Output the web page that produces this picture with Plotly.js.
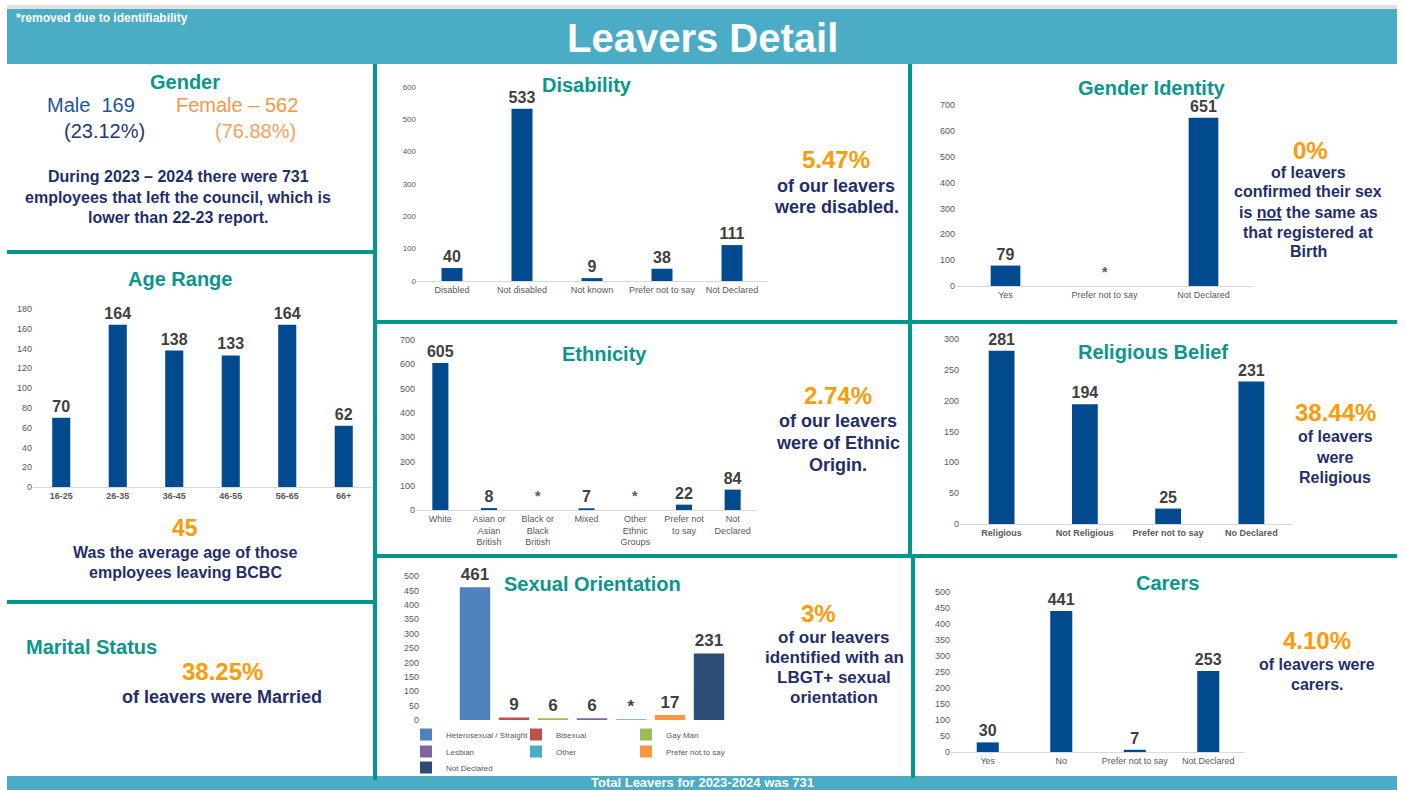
<!DOCTYPE html>
<html>
<head>
<meta charset="utf-8">
<script src="https://cdn.plot.ly/plotly-3.0.1.min.js"></script>
<style>
html,body{margin:0;padding:0;background:#fff;}
#chart{width:1405px;height:790px;}
</style>
</head>
<body>
<div id="chart"></div>
<script>
// ---------------- DATA ----------------
const ageCats = ['16-25','26-35','36-45','46-55','56-65','66+'];
const ageVals = [70,164,138,133,164,62];

const disCats = ['Disabled','Not disabled','Not known','Prefer not to say','Not Declared'];
const disVals = [40,533,9,38,111];

const giCats = ['Yes','Prefer not to say','Not Declared'];
const giVals = [79,null,651];          // null = removed due to identifiability (*)

const ethCats = ['White','Asian or<br>Asian<br>British','Black or<br>Black<br>British','Mixed','Other<br>Ethnic<br>Groups','Prefer not<br>to say','Not<br>Declared'];
const ethVals = [605,8,null,7,null,22,84];

const relCats = ['Religious','Not Religious','Prefer not to say','No Declared'];
const relVals = [281,194,25,231];

const soCats = ['Heterosexual / Straight','Bisexual','Gay Man','Lesbian','Other','Prefer not to say','Not Declared'];
const soVals = [461,9,6,6,3,17,231];
const soLabels = ['461','9','6','6','*','17','231'];

const carCats = ['Yes','No','Prefer not to say','Not Declared'];
const carVals = [30,441,7,253];

// ---------------- STYLE ----------------
const W = 1405, H = 790;
const FONT = 'Liberation Sans, Arial, sans-serif';
const BAR = '#004A8D';
const LBL = '#404040';
const TICK = '#595959';
const TEAL = '#0A968C';
const NAVY = '#1E2F6C';
const ORANGE = '#FF9A0A';
const BAND = '#4BACC6';
const LINE = '#00978C';
const soColors = ['#4F81BD','#C0504D','#9BBB59','#8064A2','#4BACC6','#F79646','#2C4D75'];

const px = x => x / W;
const py = y => 1 - y / H;

const traces = [];
function barTrace(cats, vals, n, width, lblSize) {
  traces.push({
    type:'bar', x:cats, y:vals, xaxis:'x'+(n===1?'':n), yaxis:'y'+(n===1?'':n),
    marker:{color:BAR}, width:width,
    text: vals.map(v => v==null ? '' : String(v)),
    textposition:'outside', cliponaxis:false, constraintext:'none',
    textfont:{family:FONT, size:lblSize, color:LBL, weight:700},
    showlegend:false, hoverinfo:'skip'
  });
}
barTrace(ageCats, ageVals, 1, 0.32, 16);
barTrace(disCats, disVals, 2, 0.30, 16);
barTrace(giCats, giVals, 3, 0.30, 16);
barTrace(ethCats, ethVals, 4, 0.33, 16);
barTrace(relCats, relVals, 5, 0.31, 16);
barTrace(carCats, carVals, 7, 0.30, 16);

const soLegend = ['legend','legend','legend','legend2','legend2','legend2','legend3'];
soCats.forEach((c,i) => {
  traces.push({
    type:'bar', x:[c], y:[soVals[i]], xaxis:'x6', yaxis:'y6', name:c,
    marker:{color:soColors[i]}, width:0.78,
    text:[soLabels[i]], textposition:'outside', cliponaxis:false, constraintext:'none',
    textfont:{family:FONT, size:17, color:LBL, weight:700},
    legend:soLegend[i], hoverinfo:'skip'
  });
});

function xax(x0, x1, y, cats, opts) {
  return Object.assign({
    domain:[px(x0), px(x1)], anchor:y, type:'category',
    categoryorder:'array', categoryarray:cats,
    showline:true, linecolor:'#D9D9D9', linewidth:1, ticks:'',
    showgrid:false, zeroline:false, fixedrange:true,
    tickfont:{family:FONT, size:9, color:TICK}
  }, opts||{});
}
function yax(y0pix, ytopPix, x, max, dtick, opts) {
  return Object.assign({
    domain:[py(y0pix), py(ytopPix)], anchor:x, range:[0,max], dtick:dtick,
    showline:false, showgrid:false, zeroline:false, ticks:'', fixedrange:true,
    tickfont:{family:FONT, size:9, color:TICK}
  }, opts||{});
}

const shapes = [];
function rect(x0,y0,x1,y1,color){
  shapes.push({type:'rect', xref:'paper', yref:'paper', x0:px(x0), x1:px(x1), y0:py(y1), y1:py(y0),
    fillcolor:color, line:{width:0}, layer:'below'});
}
rect(7,5,1397,9,'#E3E3E3');
rect(7,9,1397,64,BAND);
rect(7,776,1397,790,BAND);
// dividers
rect(373,64,377,780,LINE);
rect(908,64,912,556,LINE);
rect(911,556,915,778,LINE);
rect(7,250,375,254,LINE);
rect(7,600,375,604,LINE);
rect(375,320,1397,324,LINE);
rect(375,554,1397,558,LINE);

const ann = [];
function T(text, x, y, size, color, bold, anchor, fam) {
  ann.push({xref:'paper', yref:'paper', x:px(x), y:py(y), text:text, showarrow:false,
    xanchor:anchor||'center', yanchor:'middle',
    font:{family:fam||FONT, size:size, color:color, weight: bold?700:400}});
}
function lines(arr, x, y0, step, size, color) {
  arr.forEach((t,i) => T(t, x, y0 + i*step, size, color, true));
}
function star(xr, yr, cat) {
  ann.push({xref:xr, yref:yr, x:cat, y:0, yshift:14, text:'*', showarrow:false,
    yanchor:'middle', font:{family:FONT, size:14, color:TICK, weight:700}});
}

// header / footer
T('*removed due to identifiability', 14, 18, 12, '#FFFFFF', true, 'left');
T('Leavers Detail', 702, 38, 40, '#FFFFFF', true);
T('Total Leavers for 2023-2024 was 731', 702, 782.5, 13, '#FFFFFF', true);

// gender panel
T('Gender', 185, 82, 20, TEAL, true);
T('Male\u00A0\u00A0169', 45, 105, 20, '#1F5597', false, 'left');
T('Female \u2013 562', 174, 105, 20, '#F79646', false, 'left');
T('(23.12%)', 62, 131, 20, '#243A70', false, 'left');
T('(76.88%)', 213, 131, 20, '#F9A15A', false, 'left');
lines(['During 2023 \u2013 2024 there were 731','employees that left the council, which is','lower than 22-23 report.'], 178, 177, 20, 16, NAVY);

// age
T('Age Range', 180, 279, 20, TEAL, true);
T('45', 185, 528, 23, ORANGE, true);
lines(['Was the average age of those','employees leaving BCBC'], 185, 552, 20, 16, NAVY);

// marital
T('Marital Status', 24, 647, 20, TEAL, true, 'left');
T('38.25%', 222, 671, 24, ORANGE, true);
T('of leavers were Married', 222, 697, 18, NAVY, true);

// disability
T('Disability', 587, 85, 20, TEAL, true);
T('5.47%', 836, 160, 24, ORANGE, true);
lines(['of our leavers','were disabled.'], 836, 186, 21, 18, NAVY);

// gender identity
T('Gender Identity', 1152, 88, 20, TEAL, true);
T('0%', 1310, 150, 24, ORANGE, true);
lines(['of leavers','confirmed their sex','is <u>not</u> the same as','that registered at','Birth'], 1308, 172, 20, 16, NAVY);
star('x3','y3', giCats[1]);

// ethnicity
T('Ethnicity', 604, 354, 20, TEAL, true);
T('2.74%', 838, 395, 24, ORANGE, true);
lines(['of our leavers','were of Ethnic','Origin.'], 838, 421, 22, 18, NAVY);
star('x4','y4', ethCats[2]);
star('x4','y4', ethCats[4]);

// religion
T('Religious Belief', 1153, 352, 20, TEAL, true);
T('38.44%', 1335, 412, 24, ORANGE, true);
lines(['of leavers','were','Religious'], 1335, 437, 20, 16, NAVY);

// sexual orientation
T('Sexual Orientation', 592, 584, 20, TEAL, true);
T('3%', 818, 613, 24, ORANGE, true);
lines(['of our leavers','identified with an','LBGT+ sexual','orientation'], 834, 637, 20, 17, NAVY);

// carers
T('Carers', 1167, 583, 20, TEAL, true);
T('4.10%', 1317, 640, 24, ORANGE, true);
lines(['of leavers were','carers.'], 1317, 664, 20, 16, NAVY);

function leg(y) {
  return {orientation:'h', x:px(406), y:py(y), xanchor:'left', yanchor:'top',
    entrywidth:65, entrywidthmode:'pixels', bgcolor:'rgba(0,0,0,0)',
    font:{family:FONT, size:8, color:TICK}, itemclick:false, itemdoubleclick:false,
    tracegroupgap:0, traceorder:'normal'};
}

const layout = {
  width:W, height:H, margin:{l:0,r:0,t:0,b:0},
  paper_bgcolor:'#FFFFFF', plot_bgcolor:'rgba(0,0,0,0)',
  barmode:'overlay', font:{family:FONT},
  showlegend:true,
  legend: leg(720), legend2: leg(737), legend3: leg(753),
  xaxis:  xax(33, 372, 'y', ageCats, {tickfont:{family:FONT,size:9,color:TICK,weight:700}}),
  yaxis:  yax(487, 309, 'x', 180, 20),
  xaxis2: xax(417, 767, 'y2', disCats),
  yaxis2: yax(281, 87, 'x2', 600, 100, {tickfont:{family:FONT,size:8,color:TICK}}),
  xaxis3: xax(956, 1253, 'y3', giCats),
  yaxis3: yax(286, 105, 'x3', 700, 100),
  xaxis4: xax(416, 757, 'y4', ethCats),
  yaxis4: yax(510, 340, 'x4', 700, 100),
  xaxis5: xax(960, 1293, 'y5', relCats, {tickfont:{family:FONT,size:9,color:TICK,weight:700}}),
  yaxis5: yax(524, 339, 'x5', 300, 50),
  xaxis6: xax(420, 728.5, 'y6', soCats, {showticklabels:false, showline:false, range:[-1.41, 6.5]}),
  yaxis6: yax(720, 576, 'x6', 500, 50),
  xaxis7: xax(951, 1245, 'y7', carCats),
  yaxis7: yax(752, 592, 'x7', 500, 50),
  shapes: shapes,
  annotations: ann
};

Plotly.newPlot('chart', traces, layout, {displayModeBar:false, staticPlot:true});
</script>
</body>
</html>
